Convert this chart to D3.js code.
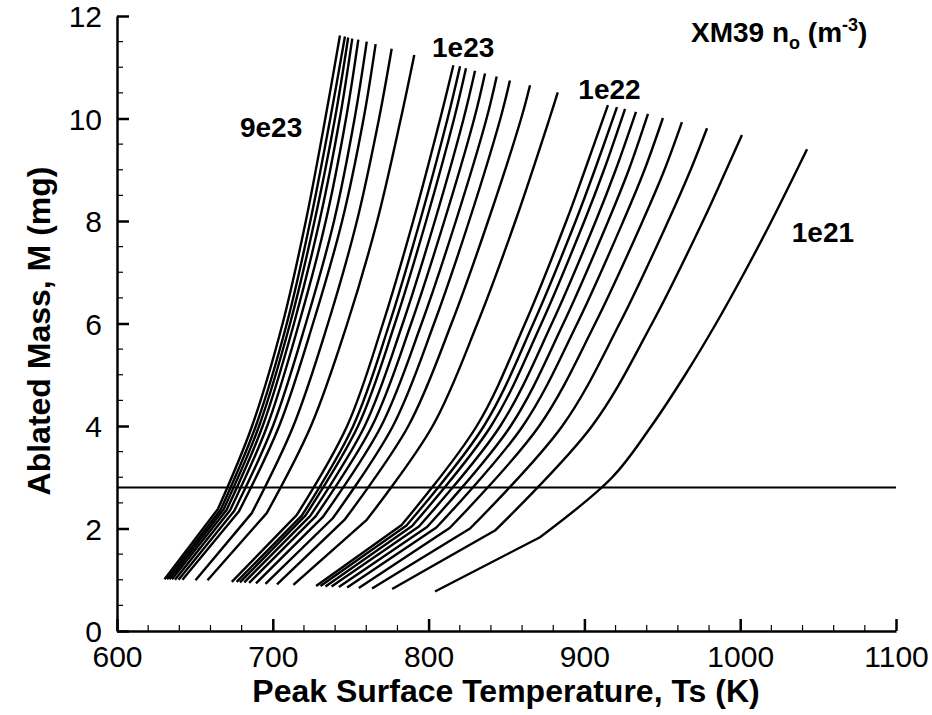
<!DOCTYPE html>
<html>
<head>
<meta charset="utf-8">
<script src="https://cdn.jsdelivr.net/npm/d3@7"></script>
<style>
  html, body { margin: 0; padding: 0; background: #fff; }
  svg { display: block; }
  text { font-family: "Liberation Sans", Arial, Helvetica, sans-serif; fill: #000; }
</style>
</head>
<body>
<svg id="chart" width="932" height="715"></svg>
<script>
// Ablated mass vs. peak surface temperature for XM39, one curve per initial density n0.

// Curves n0 = 9e23 ... 1e23
const g1T = [
  [630.5, 664.8, 686.7, 706.3, 721.2, 733.7, 743.1],
  [632.1, 666.6, 689.1, 709.0, 724.1, 736.9, 746.3],
  [633.7, 668.4, 691.2, 711.1, 726.8, 739.9, 748.4],
  [635.3, 670.3, 693.5, 713.6, 730.0, 743.0, 751.0],
  [637.2, 672.5, 696.4, 716.8, 734.0, 747.0, 754.9],
  [639.5, 675.2, 700.1, 721.2, 739.3, 752.5, 760.3],
  [642.0, 678.2, 704.1, 725.8, 744.5, 758.3, 766.0],
  [650.4, 686.5, 713.2, 735.4, 754.0, 768.2, 776.3],
  [658.1, 696.1, 724.5, 747.8, 767.0, 782.2, 790.8]
];
const g1M = [
  [1.01, 2.38, 4, 6, 8, 10, 11.62],
  [1.01, 2.37, 4, 6, 8, 10, 11.60],
  [1.01, 2.37, 4, 6, 8, 10, 11.58],
  [1.01, 2.36, 4, 6, 8, 10, 11.56],
  [1.00, 2.35, 4, 6, 8, 10, 11.54],
  [1.00, 2.34, 4, 6, 8, 10, 11.50],
  [1.00, 2.33, 4, 6, 8, 10, 11.45],
  [0.99, 2.30, 4, 6, 8, 10, 11.36],
  [0.99, 2.30, 4, 6, 8, 10, 11.24]
];

// Curves n0 = 9e22 ... 1e22
const g2T = [
  [673.7, 715.3, 747.7, 770.7, 790.1, 807.5, 815.9],
  [676.8, 718.6, 751.6, 774.9, 794.5, 812.2, 820.2],
  [678.9, 720.9, 754.7, 778.4, 798.4, 816.4, 824.0],
  [681.7, 723.9, 759.0, 783.4, 804.0, 822.5, 829.8],
  [684.8, 727.3, 763.7, 788.8, 810.1, 829.3, 836.2],
  [689.2, 732.0, 769.6, 795.5, 817.5, 837.2, 843.7],
  [695.3, 738.5, 777.1, 803.5, 826.0, 846.1, 852.2],
  [702.7, 746.3, 787.0, 814.7, 838.2, 859.4, 865.1],
  [713.2, 760.3, 802.6, 831.3, 855.7, 877.6, 882.9]
];
const g2M = [
  [0.96, 2.26, 4, 6, 8, 10, 11.04],
  [0.96, 2.25, 4, 6, 8, 10, 11.02],
  [0.95, 2.25, 4, 6, 8, 10, 10.98],
  [0.95, 2.24, 4, 6, 8, 10, 10.93],
  [0.94, 2.23, 4, 6, 8, 10, 10.88],
  [0.93, 2.22, 4, 6, 8, 10, 10.82],
  [0.92, 2.20, 4, 6, 8, 10, 10.74],
  [0.91, 2.18, 4, 6, 8, 10, 10.65],
  [0.90, 2.17, 4, 6, 8, 10, 10.51]
];

// Curves n0 = 9e21 ... 2e21
const g3T = [
  [727.8, 782.7, 830.9, 861.9, 888.4, 900.4, 915.1],
  [730.6, 785.8, 835.5, 867.2, 894.4, 906.7, 920.9],
  [733.8, 789.4, 840.1, 872.4, 900.0, 912.6, 926.1],
  [737.7, 793.8, 846.0, 879.1, 907.3, 920.1, 933.1],
  [742.4, 799.0, 852.7, 886.5, 915.3, 928.5, 940.8],
  [747.7, 805.0, 860.5, 895.4, 925.0, 938.6, 950.4],
  [755.2, 813.5, 871.0, 906.9, 937.4, 951.4, 962.6],
  [763.7, 826.6, 885.8, 922.6, 953.8, 968.2, 978.7],
  [776.6, 842.6, 904.9, 943.4, 976.1, 991.1, 1001.1]
];
const g3M = [
  [0.88, 2.07, 4, 6, 8, 9, 10.26],
  [0.88, 2.06, 4, 6, 8, 9, 10.22],
  [0.87, 2.05, 4, 6, 8, 9, 10.19],
  [0.87, 2.04, 4, 6, 8, 9, 10.13],
  [0.86, 2.03, 4, 6, 8, 9, 10.09],
  [0.85, 2.02, 4, 6, 8, 9, 10.01],
  [0.84, 2.01, 4, 6, 8, 9, 9.93],
  [0.83, 2.00, 4, 6, 8, 9, 9.81],
  [0.82, 1.96, 4, 6, 8, 9, 9.68]
];

// Curve n0 = 1e21
const lowT = [804.1, 871.5, 917.9, 943.0, 964.7, 984.5, 1002.8, 1020.1, 1042.9];
const lowM = [0.77, 1.83, 3, 4, 5, 6, 7, 8, 9.4];

// Reference ablated-mass level
const refMass = 2.8;

// Curve labels: text, temperature and mass at the text's left baseline
const curveLabels = ["9e23", "1e23", "1e22", "1e21"];
const labelT = [678.9, 802.2, 896.1, 1033.1];
const labelM = [9.645, 11.2, 10.39, 7.6];

const xTicks = [600, 700, 800, 900, 1000, 1100];
const yTicks = [0, 2, 4, 6, 8, 10, 12];

const svg = d3.select("#chart");
const plotLeft = 117, plotRight = 896, plotTop = 16, plotBottom = 631;

const x = d3.scaleLinear().domain([600, 1100]).range([plotLeft, plotRight]);
const y = d3.scaleLinear().domain([0, 12]).range([plotBottom, plotTop]);

// Minor ticks
const xMinor = d3.range(600, 1100.1, 20).filter(v => v % 100 !== 0);
const yMinor = d3.range(0, 12.01, 0.5).filter(v => v % 2 !== 0);

svg.append("g").selectAll("line").data(xMinor).join("line")
  .attr("x1", d => x(d)).attr("x2", d => x(d))
  .attr("y1", plotBottom).attr("y2", plotBottom - 6)
  .attr("stroke", "#000").attr("stroke-width", 1.2);
svg.append("g").selectAll("line").data(yMinor).join("line")
  .attr("x1", plotLeft).attr("x2", plotLeft + 6)
  .attr("y1", d => y(d)).attr("y2", d => y(d))
  .attr("stroke", "#000").attr("stroke-width", 1.2);

// Axes with inward major ticks
const fmt = d3.format("d");
const xAxis = svg.append("g").attr("transform", `translate(0,${plotBottom})`)
  .call(d3.axisBottom(x).tickValues(xTicks).tickFormat(fmt)
    .tickSizeInner(-12).tickSizeOuter(0).tickPadding(15));
const yAxis = svg.append("g").attr("transform", `translate(${plotLeft},0)`)
  .call(d3.axisLeft(y).tickValues(yTicks).tickFormat(fmt)
    .tickSizeInner(-12).tickSizeOuter(0).tickPadding(15));

[xAxis, yAxis].forEach(g => {
  g.select(".domain").attr("stroke", "#000").attr("stroke-width", 2.5);
  g.selectAll(".tick line").attr("stroke", "#000").attr("stroke-width", 2.5);
  g.selectAll(".tick text").attr("font-size", 30)
    .attr("font-family", "'Liberation Sans', Arial, sans-serif").attr("fill", "#000");
});
xAxis.selectAll(".tick text").attr("dy", "0.71em");
yAxis.selectAll(".tick text").attr("dy", "0.35em");

// Horizontal reference line
svg.append("line")
  .attr("x1", x(600)).attr("x2", x(1100))
  .attr("y1", y(refMass)).attr("y2", y(refMass))
  .attr("stroke", "#000").attr("stroke-width", 2);

// Curves: straight first segment, smooth above the bend
const smooth = d3.line().curve(d3.curveCatmullRom.alpha(0.5));
function curvePath(T, M) {
  const pts = T.map((t, i) => [x(t), y(M[i])]);
  const upper = smooth(pts.slice(1));
  return `M${pts[0][0]},${pts[0][1]}L` + upper.slice(1);
}

const allCurves = [];
g1T.forEach((T, i) => allCurves.push([T, g1M[i]]));
g2T.forEach((T, i) => allCurves.push([T, g2M[i]]));
g3T.forEach((T, i) => allCurves.push([T, g3M[i]]));
allCurves.push([lowT, lowM]);

svg.append("g").selectAll("path").data(allCurves).join("path")
  .attr("d", d => curvePath(d[0], d[1]))
  .attr("fill", "none").attr("stroke", "#000")
  .attr("stroke-width", 2.4).attr("stroke-linejoin", "round");

// Curve labels
svg.append("g").selectAll("text").data(curveLabels).join("text")
  .attr("x", (d, i) => x(labelT[i])).attr("y", (d, i) => y(labelM[i]))
  .attr("font-size", 28).attr("font-weight", "bold").text(d => d);

// Legend title: XM39 n_o (m^-3)
const leg = svg.append("text").attr("x", 691).attr("y", 42)
  .attr("font-size", 28).attr("font-weight", "bold");
leg.append("tspan").text("XM39 n");
leg.append("tspan").attr("font-size", 18).attr("dy", 7).text("o");
leg.append("tspan").attr("dy", -7).text(" (m");
leg.append("tspan").attr("font-size", 18).attr("dy", -11).text("-3");
leg.append("tspan").attr("dy", 11).text(")");

// Axis titles
svg.append("text").attr("x", 506).attr("y", 702).attr("text-anchor", "middle")
  .attr("font-size", 32).attr("font-weight", "bold")
  .text("Peak Surface Temperature, Ts (K)");
svg.append("text").attr("transform", "translate(50,331) rotate(-90)")
  .attr("text-anchor", "middle")
  .attr("font-size", 32).attr("font-weight", "bold")
  .text("Ablated Mass, M (mg)");
</script>
</body>
</html>
